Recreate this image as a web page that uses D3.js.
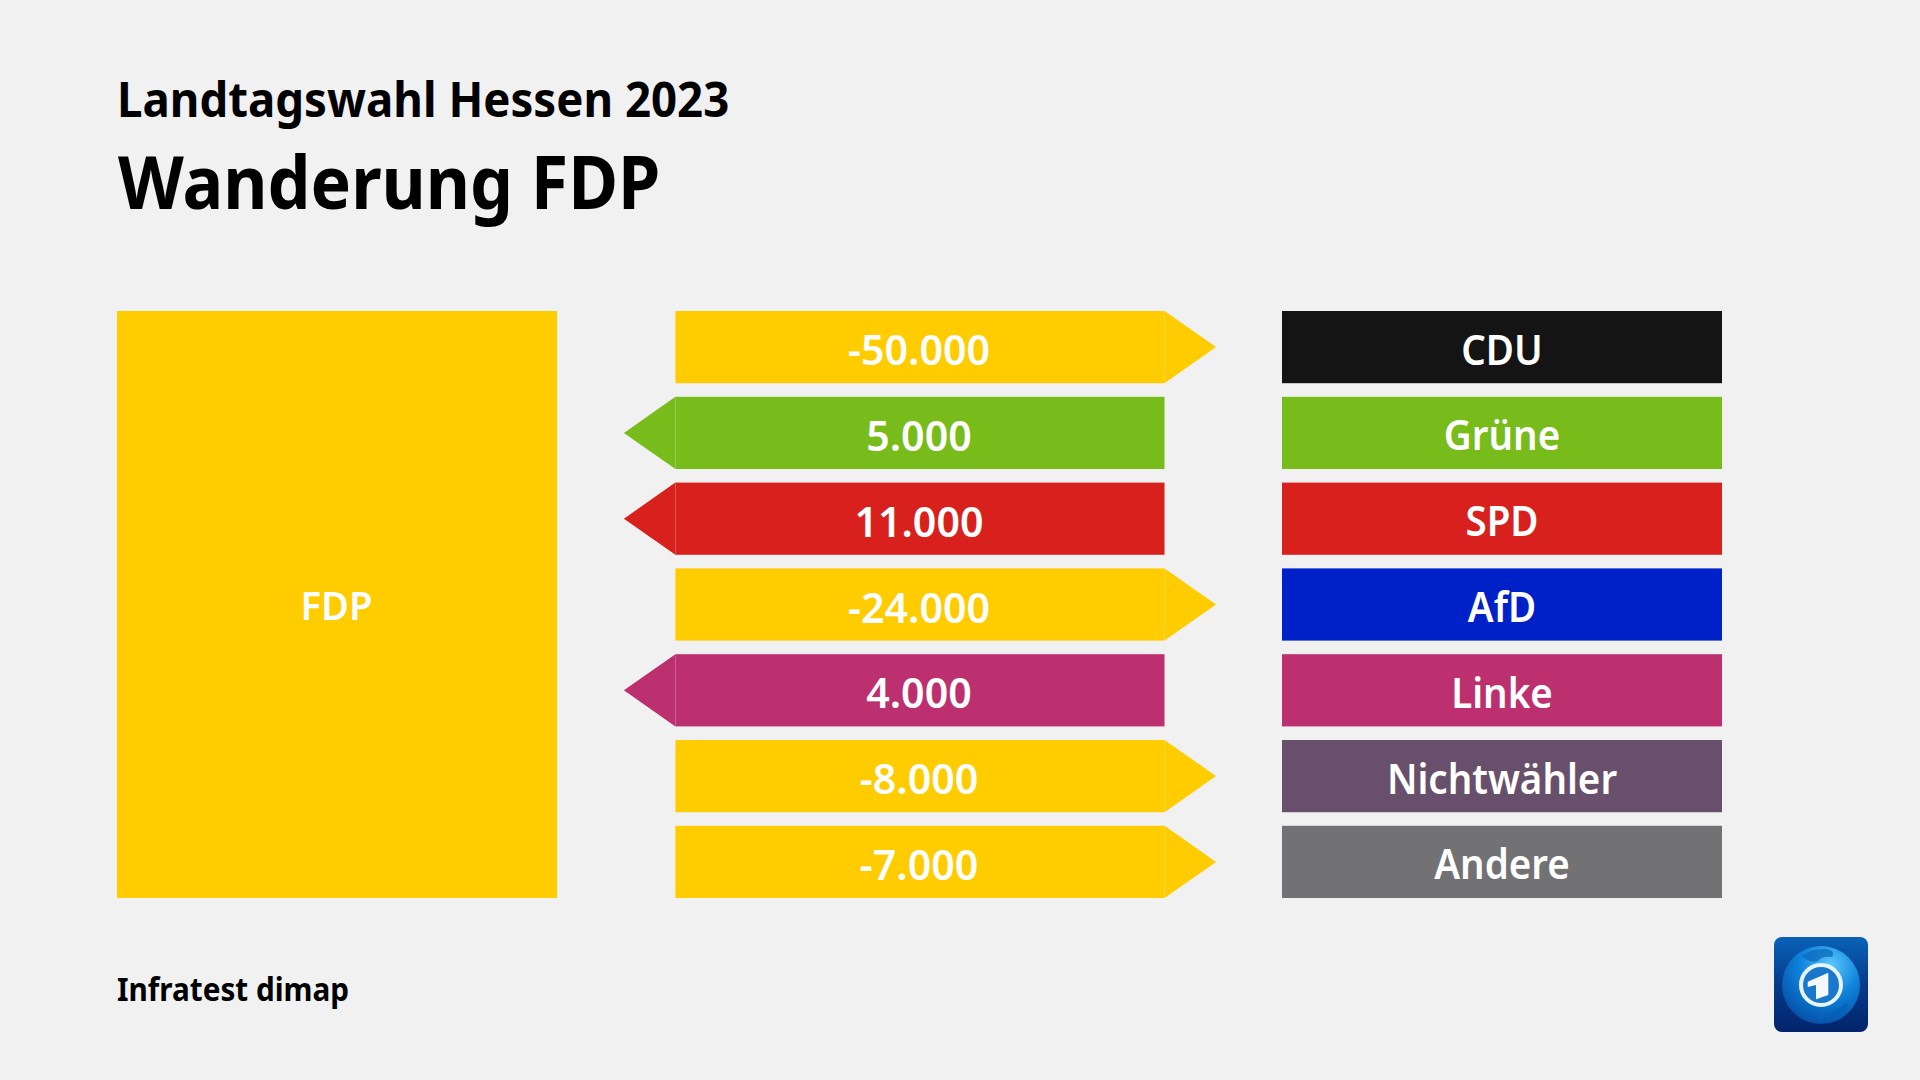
<!DOCTYPE html>
<html>
<head>
<meta charset="utf-8">
<script src="https://d3js.org/d3.v7.min.js"></script>
<style>
  html, body { margin: 0; padding: 0; background: #f1f1f1; }
  svg { display: block; }
  text { font-family: "Noto Sans", sans-serif; }
</style>
</head>
<body>
<div id="chart"></div>
<script>
// data
var categories = ["CDU", "Grüne", "SPD", "AfD", "Linke", "Nichtwähler", "Andere"];
var values = [-50000, 5000, 11000, -24000, 4000, -8000, -7000];
var partyColors = ["#141414", "#78bc1b", "#d8201c", "#0020c8", "#bc3070", "#68506c", "#727274"];
var fdpColor = "#ffcc00";

var width = 1920, height = 1080;
var svg = d3.select("#chart").append("svg")
    .attr("xmlns", "http://www.w3.org/2000/svg")
    .attr("width", width)
    .attr("height", height);

svg.append("rect").attr("width", width).attr("height", height).attr("fill", "#f1f1f1");

// labels use german thousands separator
var de = d3.formatLocale({ decimal: ",", thousands: ".", grouping: [3], currency: ["", " €"], minus: "-" });
var fmt = de.format(",d");

var y = d3.scaleBand()
    .domain(categories)
    .range([311, 898])
    .paddingInner(0.1585)
    .paddingOuter(0);

// x positions of the three columns
var xCol = d3.scaleOrdinal()
    .domain(["source", "flowLeft", "flowRight", "partyLeft", "partyRight"])
    .range([117, 675.4, 1164.5, 1282, 1722]);

var headLen = 51.5;

// text squeezed a bit, the original font is narrower than Noto Sans
function label(sel, x, yy, str, size, weight, fill, anchor, sx) {
    return sel.append("text")
        .attr("transform", "translate(" + x + "," + yy + ") scale(" + sx + ",1)")
        .attr("text-anchor", anchor)
        .attr("font-size", size)
        .attr("font-weight", weight)
        .attr("fill", fill)
        .text(str);
}

label(svg, 117, 117, "Landtagswahl Hessen 2023", 48, 700, "#000", "start", 0.95);
label(svg, 118, 209, "Wanderung FDP", 74, 700, "#000", "start", 0.92);
label(svg, 117, 1001, "Infratest dimap", 33, 700, "#000", "start", 0.9);

// big source box
svg.append("rect")
    .attr("x", xCol("source"))
    .attr("y", y.range()[0])
    .attr("width", 440)
    .attr("height", y.range()[1] - y.range()[0])
    .attr("fill", fdpColor);
label(svg, 336.5, 620, "FDP", 40, 600, "#fff", "middle", 0.957);

var rows = svg.selectAll(".row")
    .data(categories)
    .enter().append("g")
    .attr("class", "row");

rows.each(function (name, i) {
    var g = d3.select(this);
    var v = values[i];
    var top = y(name), bh = y.bandwidth();
    var color = v < 0 ? fdpColor : partyColors[i];
    var x0 = xCol("flowLeft"), x1 = xCol("flowRight");

    g.append("rect")
        .attr("x", x0).attr("y", top)
        .attr("width", x1 - x0).attr("height", bh)
        .attr("fill", color);

    // negative flows point to the party, positive ones to the FDP box
    var head = v < 0
        ? [[x1, top], [x1 + headLen, top + bh / 2], [x1, top + bh]]
        : [[x0, top], [x0 - headLen, top + bh / 2], [x0, top + bh]];
    g.append("path")
        .attr("d", d3.line()(head) + "Z")
        .attr("fill", color);

    label(g, (x0 + x1) / 2 - 1, top + bh / 2 + 18, fmt(v), 42, 600, "#fff", "middle", 0.98);

    g.append("rect")
        .attr("x", xCol("partyLeft")).attr("y", top)
        .attr("width", xCol("partyRight") - xCol("partyLeft")).attr("height", bh)
        .attr("fill", partyColors[i]);
    label(g, (xCol("partyLeft") + xCol("partyRight")) / 2, top + bh / 2 + 17.5, name, 41, 600, "#fff", "middle", 0.94);
});

// tagesschau style logo, rough drawing
var defs = svg.append("defs");
var bg = defs.append("linearGradient").attr("id", "logoBg").attr("x1", 0).attr("y1", 0).attr("x2", 0).attr("y2", 1);
bg.append("stop").attr("offset", 0).attr("stop-color", "#0a62b8");
bg.append("stop").attr("offset", 0.5).attr("stop-color", "#053a8c");
bg.append("stop").attr("offset", 1).attr("stop-color", "#02246a");
var globe = defs.append("radialGradient").attr("id", "logoGlobe").attr("cx", 0.62).attr("cy", 0.25).attr("r", 0.85);
globe.append("stop").attr("offset", 0).attr("stop-color", "#5cc8fb");
globe.append("stop").attr("offset", 0.45).attr("stop-color", "#0f84dc");
globe.append("stop").attr("offset", 1).attr("stop-color", "#04479e");

var logo = svg.append("g").attr("transform", "translate(1774,937)");
logo.append("rect").attr("width", 94).attr("height", 95).attr("rx", 8).attr("fill", "url(#logoBg)");
logo.append("circle").attr("cx", 47).attr("cy", 48).attr("r", 39).attr("fill", "url(#logoGlobe)");
// land masses, just suggested
logo.append("path")
    .attr("d", "M28 19 Q38 11 52 12 Q62 14 58 20 Q48 19 44 24 Q36 27 28 19Z")
    .attr("fill", "#0b68bc").attr("opacity", 0.75);
logo.append("path")
    .attr("d", "M50 78 Q62 74 72 66 Q76 68 70 76 Q62 84 52 85Z")
    .attr("fill", "#0560b4").attr("opacity", 0.7);
logo.append("circle").attr("cx", 47).attr("cy", 48).attr("r", 20).attr("fill", "#1a78cc")
    .attr("stroke", "#e8f4fc").attr("stroke-width", 4);
logo.append("path")
    .attr("d", d3.line()([[33.7, 44.7], [54.3, 35.7], [54.3, 58], [42, 62.3], [42, 48], [33.7, 50]]) + "Z")
    .attr("fill", "#f4f8fb");
</script>
</body>
</html>
